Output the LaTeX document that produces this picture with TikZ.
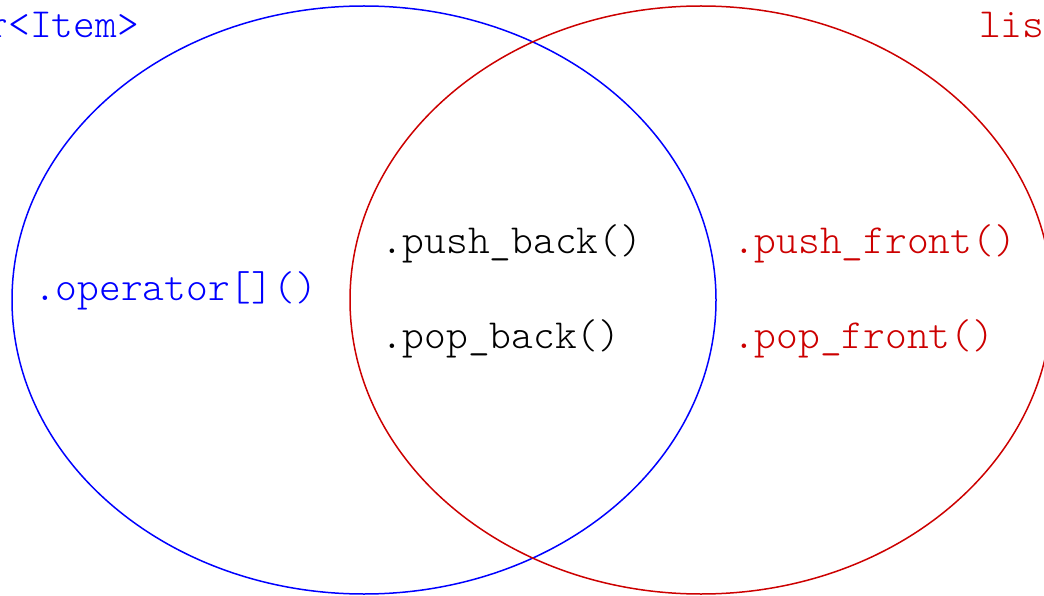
\documentclass[tikz,border=0pt]{standalone}
\begin{document}
\begin{tikzpicture}[x=1pt,y=-1pt,
  lbl/.style={font=\ttfamily\fontseries{l}\fontsize{41.4}{45}\selectfont, inner sep=0pt, anchor=base west},
  setline/.style={line width=1.5pt}]
\definecolor{setblue}{RGB}{0,0,255}
\definecolor{setred}{RGB}{204,0,0}
\useasboundingbox (0,0) rectangle (1044,596);
\clip (0,0) rectangle (1044,596);
\draw[setline, setblue] (364,300) ellipse [x radius=352, y radius=294];
\draw[setline, setred] (701,300) ellipse [x radius=351, y radius=294];
\node[lbl, setblue, anchor=base east] (vec) at (139,38) {vector<Item>};
\node[lbl, setred] (lst) at (979,38) {list<Item>};
\node[lbl, setblue] (op) at (34,300) {.operator[]()};
\node[lbl] (pb) at (381,254) {.push\_back()};
\node[lbl] (pob) at (381,348) {.pop\_back()};
\node[lbl, setred] (pf) at (733,254) {.push\_front()};
\node[lbl, setred] (pof) at (733,348) {.pop\_front()};
\end{tikzpicture}
\end{document}
